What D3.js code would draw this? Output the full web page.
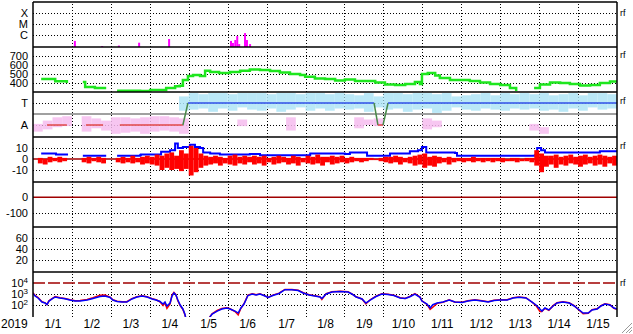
<!DOCTYPE html>
<html>
<head>
<meta charset="utf-8">
<script src="https://cdn.jsdelivr.net/npm/d3@7"></script>
<style>
  body { margin: 0; background: #fff; }
  svg { display: block; font-family: "Liberation Sans", Arial, sans-serif; }
  .grid line { stroke: #000; stroke-dasharray: 1,2; shape-rendering: crispEdges; }
  .grid path { display: none; }
  .lab text { font-size: 11px; fill: #000; }
  .lab path, .lab line { display: none; }
  .xlab text { font-size: 12px; }
</style>
</head>
<body>
<svg width="633" height="334"></svg>
<script>
// month labels along the bottom (one per month, Jan 2019 .. Mar 2020)
const monthLabels = ["1/1","1/2","1/3","1/4","1/5","1/6","1/7","1/8","1/9","1/10","1/11","1/12","1/13","1/14","1/15"];

// x-ray flares (time in months, flux W/m2)
const xrayTime = [1.05, 1.75, 2.18, 2.70, 3.47, 5.06, 5.11, 5.17, 5.22, 5.27, 5.42, 5.47, 5.55];
const xrayFlux = [2.9e-7, 1.0e-7, 1.1e-7, 2.0e-7, 4.3e-7, 2.9e-7, 1.9e-7, 3.5e-7, 8e-7, 1.5e-7, 1.5e-6, 3.5e-7, 1.5e-7];

// solar wind speed (km/s), null = gap
const speedTime = [0.21,0.57,0.87,null,1.28,1.34,1.59,1.88,null,2.16,2.75,3.01,3.39,3.42,3.65,3.77,3.85,3.98,4.11,4.29,4.42,4.55,4.78,5.06,5.32,5.57,5.83,6.09,6.34,6.60,6.86,6.99,7.24,7.50,7.76,8.01,8.27,8.53,8.79,9.04,9.30,9.56,9.81,9.94,9.99,10.14,10.33,10.45,10.71,10.97,11.22,11.48,11.74,12.00,12.25,12.41,null,12.87,13.02,13.28,13.54,13.79,14.05,14.31,14.56,14.82,15.0];
const speedValue = [444,420,400,null,410,355,345,345,null,315,310,322,322,345,365,370,433,478,490,478,537,522,510,522,537,550,544,533,517,500,490,470,450,444,428,440,422,422,405,383,378,389,411,389,500,511,483,455,433,433,422,405,389,378,344,311,null,344,383,405,400,389,372,378,400,417,405];

// sector polarity (T = 1, A = -1)
const sectorTime = [0.36, 0.87, null, 1.36, 1.80, null, 2.23, 3.85, 3.98, 8.76, 8.86, 8.99, 9.12, 15.0];
const sectorValue = [-1, -1, null, -1, -1, null, -1, -1, 1, 1, -1, -1, 1, 1];

// sector angle scatter, quarter-month bins [lo, hi]
const sectorStep = 0.25;
const awayBand = [[-1.6,-0.9],[-1.4,-0.6],[-1.2,-0.3],[-1.1,-0.2],null,[-1.6,-0.2],[-1.3,-0.4],[-1.5,-0.6],[-1.8,-0.3],[-1.7,-0.3],[-1.6,-0.4],[-1.8,-0.3],[-1.6,-0.2],[-1.5,-0.2],[-1.6,-0.3],[-1.8,-0.4],
  null,null,null,null,null,[-1.1,-0.5],null,null,null,null,[-1.5,-0.3],null,null,null,null,null,null,[-1.3,-0.3],[-1.0,-0.5],[-1.1,-0.4],null,null,null,null,[-1.4,-0.4],[-1.2,-0.6],null,null,null,null,null,null,null,null,null,[-1.5,-0.9],[-1.8,-1.2],null,null,null,null,null,null,null];
const towardBand = [null,null,null,null,null,null,null,null,null,null,null,null,null,null,null,[0.3,1.6],
  [0.4,1.9],[0.5,1.8],[0.2,1.9],[0.5,1.9],[0.3,1.8],[0.6,1.9],[0.4,1.9],[0.3,1.9],[0.5,1.8],[0.2,1.9],[0.4,1.9],[0.6,1.8],[0.3,1.9],[0.5,1.9],[0.3,1.8],[0.5,1.9],[0.4,1.8],[0.5,1.7],[0.2,1.9],[0.6,1.6],[0.4,1.9],[0.5,1.9],[0.2,1.8],[0.4,1.9],[0.5,1.9],[0.1,1.8],[0.3,1.9],[0.6,1.6],[0.4,1.7],[0.3,1.8],[0.5,1.9],[0.4,1.7],[0.3,1.9],[0.5,1.8],[0.4,1.9],[0.5,1.8],[0.3,1.9],[0.4,1.7],[0.2,1.8],[0.5,1.9],[0.3,1.7],[0.6,1.9],[0.4,1.9],[0.5,1.8]];

// IMF Bt (nT), null = gap
const btTime = [0.21,0.57,0.59,0.90,null,1.28,1.88,null,2.16,2.75,2.77,3.26,3.29,3.52,3.65,3.72,3.85,4.03,4.16,4.29,4.37,4.55,4.80,5.57,5.83,6.99,7.12,8.01,8.14,8.53,8.58,9.04,9.17,9.68,9.89,9.99,10.10,10.84,10.89,11.99,12.89,12.95,13.05,13.15,14.05,14.56,15.0];
const btValue = [5,5,4,4,null,3,3,null,3,3.5,4,4,6.5,8,14,10,11,13,11,10,6,5,4,4.5,3.5,3.5,5,4.5,6,6,3,3,5,7,8,11,6,5.5,3,3,3.5,10,8,6,6,7,6.5];

// IMF Bz range per eighth-month bin [lo, hi] (nT)
const bzStep = 0.125;
const bzRange = [null,[-4,1],[-5,0],[-3,2],[-2,1],[-3,2],[-2,1],null,null,null,[-3,1],[-4,2],[-2,1],[-3,2],[-4,1],null,null,[-3,1],[-4,2],[-3,1],
  [-4,3],[-3,1],[-5,2],[-4,3],[-5,2],[-6,4],[-10,3],[-8,5],[-10,6],[-9,3],[-11,8],[-9,5],[-15,12],[-12,10],[-8,5],[-6,3],[-5,2],[-4,3],[-6,2],[-4,1],
  [-5,3],[-6,4],[-4,2],[-5,3],[-3,2],[-5,3],[-4,2],[-6,3],[-3,1],[-5,2],[-4,3],[-3,2],[-5,1],[-4,3],[-6,2],[-3,1],[-4,3],[-5,2],[-4,4],[-6,2],
  [-3,2],[-5,3],[-4,2],[-3,3],[-4,1],[-3,2],[-2,1],[-3,1],[-2,1],[-1,1],[-1,0],[-2,1],[-3,2],[-4,2],[-3,3],[-5,2],[-3,1],[-4,2],[-6,3],[-5,4],
  [-8,5],[-6,2],[-7,3],[-4,2],[-3,1],[-5,2],[-3,1],[-2,1],[-3,1],[-2,1],[-3,2],[-2,1],[-3,1],[-2,1],[-3,1],[-2,1],[-3,1],[-2,0],[-2,1],[-3,1],
  [-2,0],[-2,1],[-3,1],[-6,8],[-12,5],[-7,3],[-5,3],[-8,4],[-5,2],[-6,3],[-4,4],[-5,2],[-7,3],[-5,4],[-4,2],[-6,3],[-5,4],[-7,3],[-4,2],[-6,3]];

// electron flux, log10 values
const fluxTime = [0.00,0.05,0.13,0.23,0.31,0.36,0.41,0.49,0.57,0.69,0.82,0.95,1.08,1.21,1.39,1.54,1.72,1.85,1.98,2.05,2.16,2.29,2.41,2.54,2.67,2.80,2.93,3.06,3.16,3.26,3.34,3.39,3.44,3.52,3.57,3.62,3.67,3.72,3.78,3.85,3.90,3.96,4.42,4.60,4.73,4.85,4.98,5.06,5.19,5.27,5.34,5.42,5.52,5.63,5.73,5.83,5.93,6.04,6.16,6.32,6.47,6.65,6.81,6.94,7.09,7.24,7.37,7.42,7.53,7.68,7.89,8.09,8.19,8.30,8.45,8.55,8.66,8.81,8.96,9.12,9.27,9.43,9.56,9.68,9.81,9.94,9.99,10.12,10.20,10.27,10.38,10.53,10.69,10.84,11.02,11.17,11.35,11.53,11.69,11.84,12.00,12.18,12.33,12.48,12.66,12.82,12.92,13.02,13.07,13.15,13.25,13.36,13.46,13.61,13.77,13.90,14.00,14.13,14.26,14.36,14.49,14.59,14.69,14.82,14.92,15.00];
const fluxBlueLog = [3.06,2.82,2.64,2.27,2.18,2.03,2.36,2.55,2.73,2.64,2.57,2.45,2.36,2.36,2.45,2.59,2.77,2.82,2.68,2.45,2.32,2.27,2.27,2.55,2.73,2.82,2.73,2.55,2.45,2.32,2.09,2.27,1.91,2.18,2.82,3.09,2.91,2.45,2.00,1.64,1.18,0.3,0.3,1.18,1.45,1.64,1.73,1.64,1.45,1.27,1.73,2.09,2.86,3.00,2.91,3.00,2.86,2.68,2.86,3.05,3.39,3.39,3.32,3.09,2.91,2.82,2.73,2.59,3.00,3.18,3.23,3.18,3.00,2.73,2.55,2.18,2.45,2.77,3.00,2.95,2.86,2.64,2.59,2.75,3.00,2.70,2.36,2.09,1.73,2.03,2.18,2.27,2.45,2.27,2.23,2.36,2.45,2.36,2.27,2.41,2.45,2.45,2.64,2.70,2.64,2.27,2.00,1.64,1.45,1.73,1.55,1.91,2.18,2.27,2.18,1.91,1.64,1.27,1.27,1.55,1.64,1.91,2.09,2.00,1.73,1.64];
const fluxRedLog = [3.12,2.88,2.68,2.30,2.20,2.05,2.38,2.58,2.76,2.66,2.60,2.47,2.38,2.40,2.50,2.66,2.88,2.90,2.72,2.48,2.34,2.30,2.30,2.58,2.76,2.85,2.76,2.58,2.48,2.30,1.95,2.20,1.70,2.10,2.90,3.15,2.95,2.40,1.95,1.60,1.15,0.3,0.3,1.20,1.50,1.68,1.76,1.66,1.40,1.10,1.70,2.12,2.90,3.03,2.94,3.03,2.88,2.70,2.90,3.08,3.42,3.42,3.35,3.12,2.94,2.85,2.76,2.50,3.03,3.20,3.26,3.20,3.02,2.75,2.55,2.10,2.48,2.80,3.03,2.98,2.88,2.66,2.60,2.78,3.03,2.72,2.38,2.05,1.60,1.80,2.15,2.25,2.48,2.25,2.25,2.38,2.48,2.38,2.30,2.44,2.48,2.48,2.66,2.72,2.66,2.25,1.95,1.40,1.40,1.70,1.52,1.94,2.20,2.30,2.20,1.94,1.62,1.20,1.25,1.58,1.66,1.94,2.12,2.02,1.70,1.62];

// axis tick values
const xrayTicks = [1e-4, 1e-5, 1e-6], xrayLabels = ["X", "M", "C"];
const speedTicks = [700, 600, 500, 400];
const sectorTicks = [1, -1], sectorLabels = ["T", "A"];
const bzTicks = [10, -10];
const dstTicks = [-100];
const p6Ticks = [60, 40, 20];
const fluxTicks = [1e3, 1e2], fluxLabelTicks = [1e4, 1e3, 1e2];

const svg = d3.select("svg");
const plotL = 33, plotR = 617, plotT = 2, plotB = 317;
const x = d3.scaleLinear().domain([0, 15]).range([plotL, plotR]);

// panel scales
const yXray = d3.scaleLog().domain([10 ** -7.09, 1e-3]).range([47, 2]);
const ySpeed = d3.scaleLinear().domain([300, 800]).range([92, 47]);
const ySector = d3.scaleLinear().domain([-2.09, 2]).range([137, 92]);
const yBz = d3.scaleLinear().domain([-20.9, 20]).range([182, 137]);
const yDst = d3.scaleLinear().domain([-194, 100]).range([227, 182]);
const yP6 = d3.scaleLinear().domain([-1.8, 80]).range([272, 227]);
const yFlux = d3.scaleLog().domain([10 ** 0.91, 1e5]).range([317, 272]);

const panels = [[2, 47], [47, 92], [92, 137], [137, 182], [182, 227], [227, 272], [272, 317]];
const defs = svg.append("defs");
panels.forEach((p, i) => {
  defs.append("clipPath").attr("id", "clip" + i)
    .append("rect").attr("x", plotL).attr("y", p[0]).attr("width", plotR - plotL).attr("height", p[1] - p[0]);
});

// horizontal dotted grid per panel
function grid(scale, ticks) {
  svg.append("g").attr("class", "grid")
    .attr("transform", `translate(${plotL},0)`)
    .call(d3.axisLeft(scale).tickValues(ticks).tickSize(-(plotR - plotL)).tickFormat(""));
}
grid(yXray, xrayTicks);
grid(ySpeed, speedTicks);
grid(ySector, sectorTicks);
grid(yBz, bzTicks);
grid(yDst, dstTicks);
grid(yP6, p6Ticks);
grid(yFlux, fluxTicks);

// vertical dotted month lines
svg.append("g").attr("class", "grid")
  .attr("transform", `translate(0,${plotB})`)
  .call(d3.axisBottom(x).tickValues(d3.range(1, 15)).tickSize(-(plotB - plotT)).tickFormat(""));

// left labels
function labels(scale, ticks, fmt) {
  return svg.append("g").attr("class", "lab")
    .attr("transform", `translate(${plotL},0)`)
    .call(d3.axisLeft(scale).tickValues(ticks).tickSize(0).tickPadding(5).tickFormat(fmt));
}
labels(yXray, xrayTicks, (d, i) => xrayLabels[i]);
labels(ySpeed, speedTicks, d => d);
labels(ySector, sectorTicks, (d, i) => sectorLabels[i]);
labels(yBz, [10, 0, -10], d => d);
labels(yDst, [0, -100], d => d);
labels(yP6, p6Ticks, d => d);
labels(yFlux, fluxLabelTicks, "").selectAll("text").each(function(d) {
  const t = d3.select(this);
  t.text("10");
  t.append("tspan").attr("dy", "-0.5em").attr("font-size", "8px").text(Math.round(Math.log10(d)));
});

// bottom month labels
svg.append("g").attr("class", "lab xlab")
  .attr("transform", `translate(0,${plotB})`)
  .call(d3.axisBottom(x).tickValues(d3.range(0.5, 15, 1)).tickSize(0).tickPadding(2).tickFormat((d, i) => monthLabels[i]));
svg.append("text").attr("x", 1).attr("y", 328).attr("font-size", 12).text("2019");

// panel 1: x-ray bars
svg.append("g").attr("clip-path", "url(#clip0)")
  .selectAll("rect").data(xrayTime).enter().append("rect")
  .attr("x", d => x(d))
  .attr("y", (d, i) => yXray(xrayFlux[i]))
  .attr("width", 2)
  .attr("height", (d, i) => 47 - yXray(xrayFlux[i]))
  .attr("fill", "#f0f");

// panel 2: speed
const speedData = speedTime.map((t, i) => [t, speedValue[i]]);
svg.append("path").datum(speedData).attr("clip-path", "url(#clip1)")
  .attr("fill", "none").attr("stroke", "#1ee61e").attr("stroke-width", 2.5)
  .attr("d", d3.line().defined(d => d[0] !== null).curve(d3.curveStepAfter)
    .x(d => x(d[0])).y(d => ySpeed(d[1])));

// panel 3: sector scatter bands and polarity line
const sec = svg.append("g").attr("clip-path", "url(#clip2)");
function band(data, color) {
  sec.append("g").selectAll("rect").data(data.map((r, i) => [i, r]).filter(d => d[1]))
    .enter().append("rect")
    .attr("x", d => x(d[0] * sectorStep))
    .attr("width", x(sectorStep) - x(0))
    .attr("y", d => ySector(d[1][1]))
    .attr("height", d => ySector(d[1][0]) - ySector(d[1][1]))
    .attr("fill", color).attr("opacity", 0.85);
}
band(towardBand, "#aee4f6");
band(awayBand, "#f6bcef");
sec.append("line").attr("x1", plotL).attr("x2", plotR)
  .attr("y1", ySector(0)).attr("y2", ySector(0))
  .attr("stroke", "#808080").attr("stroke-width", 1.5);
for (let i = 0; i < sectorTime.length - 1; i++) {
  const a = sectorValue[i], b = sectorValue[i + 1];
  if (a === null || b === null) continue;
  const col = a !== b ? "#4a8a4a" : (a > 0 ? "#3050e8" : "#e04848");
  sec.append("line")
    .attr("x1", x(sectorTime[i])).attr("x2", x(sectorTime[i + 1]))
    .attr("y1", ySector(a)).attr("y2", ySector(b))
    .attr("stroke", col).attr("stroke-width", 1.5);
}

// panel 4: Bt and Bz
const imf = svg.append("g").attr("clip-path", "url(#clip3)");
imf.append("line").attr("x1", plotL).attr("x2", plotR)
  .attr("y1", yBz(0)).attr("y2", yBz(0))
  .attr("stroke", "#a00000").attr("stroke-width", 1.5);
const btData = btTime.map((t, i) => [t, btValue[i]]);
imf.append("path").datum(btData)
  .attr("fill", "none").attr("stroke", "#0000ff").attr("stroke-width", 2)
  .attr("d", d3.line().defined(d => d[0] !== null).curve(d3.curveStepAfter)
    .x(d => x(d[0])).y(d => yBz(d[1])));
imf.append("g").selectAll("rect").data(bzRange.map((r, i) => [i, r]).filter(d => d[1]))
  .enter().append("rect")
  .attr("x", d => x(d[0] * bzStep))
  .attr("width", x(bzStep) - x(0))
  .attr("y", d => yBz(d[1][1]))
  .attr("height", d => yBz(d[1][0]) - yBz(d[1][1]))
  .attr("fill", "#ff0000");

// panel 5: Dst zero line
svg.append("line").attr("x1", plotL).attr("x2", plotR)
  .attr("y1", yDst(0)).attr("y2", yDst(0))
  .attr("stroke", "#a00000").attr("stroke-width", 1.5);

// panel 7: electron flux
svg.append("line").attr("x1", plotL).attr("x2", plotR)
  .attr("y1", yFlux(1e4)).attr("y2", yFlux(1e4))
  .attr("stroke", "#a00000").attr("stroke-width", 1.5).attr("stroke-dasharray", "12,3");
const fluxLine = (logs) => d3.line().x((d, i) => x(fluxTime[i])).y(d => yFlux(10 ** d))(logs);
svg.append("path").attr("clip-path", "url(#clip6)")
  .attr("fill", "none").attr("stroke", "#ff0000").attr("stroke-width", 1.5)
  .attr("d", fluxLine(fluxRedLog));
svg.append("path").attr("clip-path", "url(#clip6)")
  .attr("fill", "none").attr("stroke", "#0000ff").attr("stroke-width", 1.5)
  .attr("d", fluxLine(fluxBlueLog));

// panel borders
[2, 47, 92, 137, 182, 227, 272].forEach(y => {
  svg.append("line").attr("x1", plotL).attr("x2", plotR).attr("y1", y).attr("y2", y)
    .attr("stroke", "#000").attr("stroke-width", 1.5);
});
[plotL, plotR].forEach(xx => {
  svg.append("line").attr("x1", xx).attr("x2", xx).attr("y1", plotT).attr("y2", plotB)
    .attr("stroke", "#000").attr("stroke-width", 1.5);
});

// little right-hand markers
[13, 55, 101, 146, 283].forEach(y => {
  svg.append("text").attr("x", 620).attr("y", y + 3).attr("font-size", 9).text("rf");
});

// resize grip
[[622, 333, 632, 323], [626, 333, 632, 327], [629, 333, 632, 330]].forEach(l => {
  svg.append("line").attr("x1", l[0]).attr("y1", l[1]).attr("x2", l[2]).attr("y2", l[3])
    .attr("stroke", "#999").attr("stroke-width", 1);
});
</script>
</body>
</html>
